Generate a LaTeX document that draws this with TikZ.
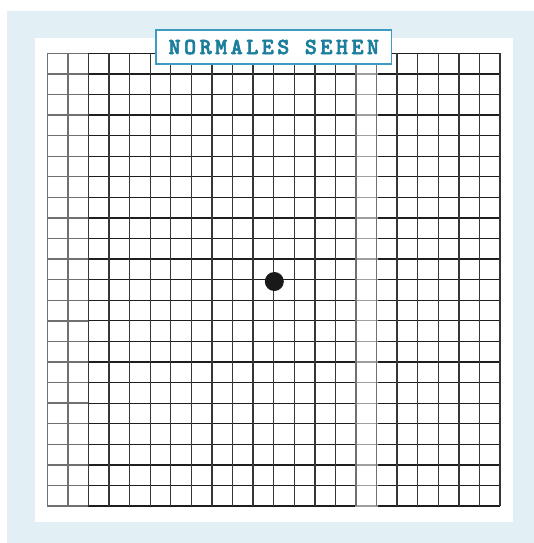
\documentclass[tikz,border=0pt]{standalone}
\usepackage{fontspec}
\newfontfamily\titlefont[LetterSpace=15,FakeBold=2.5]{lmmonolt10-bold.otf}
\definecolor{bgblue}{HTML}{E2F0F6}
\definecolor{teal}{HTML}{1A7E9C}
\definecolor{tealline}{HTML}{3D9CC0}
\definecolor{gridblack}{HTML}{1E1E1E}
\definecolor{gridvert}{HTML}{363636}
\definecolor{gridgrey}{HTML}{707070}
\definecolor{gridlight}{HTML}{9E9E9E}
\begin{document}
\begin{tikzpicture}[x=1pt,y=-1pt,
  hline/.style={draw=gridblack,line width=1.3pt},
  vline/.style={draw=gridvert,line width=1.4pt},
  greyline/.style={draw=gridgrey,line width=1.4pt},
  lightline/.style={draw=gridlight,line width=1.3pt},
  titlebox/.style={draw=tealline,line width=1.6pt,fill=white,minimum width=235.7pt,minimum height=34pt,inner sep=0pt,text=teal,font=\titlefont\fontsize{23}{24}\selectfont}]
\useasboundingbox (0,0) rectangle (534,543);
\fill[bgblue] (7,11) rectangle (534,543);
\fill[white] (35,38) rectangle (513,522);
\pgfmathsetmacro{\xa}{47.3}
\pgfmathsetmacro{\ya}{53.3}
\pgfmathsetmacro{\cs}{20.58}
% horizontal lines
\foreach \i in {0,...,22}{
  \pgfmathsetmacro{\yy}{\ya+\i*\cs}
  \draw[greyline] (\xa,\yy) -- (\xa+2*\cs,\yy);
  \draw[hline] (\xa+2*\cs,\yy) -- (\xa+15*\cs-1,\yy);
  \draw[lightline] (\xa+15*\cs-1,\yy) -- (\xa+16*\cs+1,\yy);
  \draw[hline] (\xa+16*\cs+1,\yy) -- (\xa+22*\cs,\yy);
}
% vertical lines
\foreach \j in {2,...,14,17,18,19,20,21,22}{
  \pgfmathsetmacro{\xx}{\xa+\j*\cs}
  \draw[vline] (\xx,\ya) -- (\xx,\ya+22*\cs);
}
\foreach \j in {0,1,15,16}{
  \pgfmathsetmacro{\xx}{\xa+\j*\cs}
  \draw[greyline] (\xx,\ya) -- (\xx,\ya+22*\cs);
}
% fixation dot
\fill[black!90] (274.3,281.5) circle (9.5);
% title
\node[titlebox] (title) at (273.8,47) {NORMALES SEHEN};
\end{tikzpicture}
\end{document}
